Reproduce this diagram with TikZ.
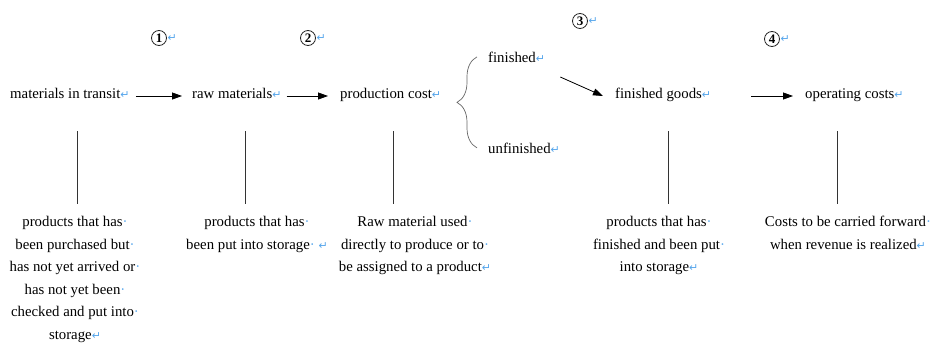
\documentclass[tikz,border=0pt]{standalone}
\usepackage{fontspec}
\setmainfont{Liberation Serif}
\newfontfamily\symfont{DejaVu Sans}
\usetikzlibrary{arrows.meta,decorations.pathreplacing}
\definecolor{retblue}{RGB}{85,165,235}
\newcommand\retmk{{\symfont\fontsize{11}{11}\selectfont\textcolor{retblue}{↵}}}
\newcommand\spmk{{\textcolor{retblue}{·}}}
\begin{document}
\begin{tikzpicture}[x=1pt,y=-1pt,
  lbl/.style={inner sep=0pt, font=\fontsize{14.8}{22.6}\selectfont},
  desc/.style={lbl, align=center, anchor=north},
  arr/.style={-{Triangle[length=10pt,width=7pt]}, line width=0.8pt},
  vline/.style={line width=0.7pt, draw=black!80},
  bracestyle/.style={draw=black!60, line width=0.7pt, decorate, decoration={brace, amplitude=20pt}},
  num/.style={circle, draw=black!85, line width=0.8pt, inner sep=0pt, minimum size=15pt, font=\fontsize{13}{13}\selectfont\bfseries,
    label={[inner sep=0.5pt]right:\retmk}}
]
\useasboundingbox (0,0) rectangle (930,343);

% circled numbers
\node[num] (n1) at (159,38) {1};
\node[num] (n2) at (308,38) {2};
\node[num] (n3) at (580,21) {3};
\node[num] (n4) at (772,39) {4};

% main row
\node[lbl, anchor=base west] (transit) at (10,98) {materials in transit\retmk};
\node[lbl, anchor=base west] (raw) at (192,98) {raw materials\retmk};
\node[lbl, anchor=base west] (prod) at (340,98) {production cost\retmk};
\node[lbl, anchor=base west] (fin) at (488,62) {finished\retmk};
\node[lbl, anchor=base west] (unfin) at (488,153) {unfinished\retmk};
\node[lbl, anchor=base west] (goods) at (615,98) {finished goods\retmk};
\node[lbl, anchor=base west] (oper) at (805,98) {operating costs\retmk};

% arrows
\draw[arr] ([shift={(6,-2)}]transit.base east) -- ([shift={(-10,-2)}]raw.base west);
\draw[arr] ([shift={(5,-2)}]raw.base east) -- ([shift={(-12,-2)}]prod.base west);
\draw[arr] ([shift={(15,15)}]fin.base east) -- ([shift={(-12,-2)}]goods.base west);
\draw[arr] ([shift={(40,-2)}]goods.base east) -- ([shift={(-12,-2)}]oper.base west);

% brace
\draw[bracestyle] ([xshift=-11pt]unfin.west) -- ([xshift=-11pt]fin.west);

% descriptions
\node[desc] (d1) at (75,216) {products that has\spmk\\been purchased but\spmk\\has not yet arrived or\spmk\\has not yet been\spmk\\checked and put into\spmk\\storage\retmk};
\node[desc] (d2) at (257,216) {products that has\spmk\\been put into storage\spmk\ \retmk};
\node[desc] (d3) at (415,216) {Raw material used\spmk\\directly to produce or to\spmk\\be assigned to a product\retmk};
\node[desc] (d4) at (659,216) {products that has\spmk\\finished and been put\spmk\\into storage\retmk};
\node[desc] (d5) at (848,216) {Costs to be carried forward\spmk\\when revenue is realized\retmk};

% vertical connectors
\coordinate (t1) at (77,131);  \coordinate (b1) at (77,204);
\coordinate (t2) at (245,131); \coordinate (b2) at (245,204);
\coordinate (t3) at (393,131); \coordinate (b3) at (393,204);
\coordinate (t4) at (668,131); \coordinate (b4) at (668,204);
\coordinate (t5) at (837,131); \coordinate (b5) at (837,204);
\foreach \i in {1,...,5} \draw[vline] (t\i) -- (b\i);
\end{tikzpicture}
\end{document}
